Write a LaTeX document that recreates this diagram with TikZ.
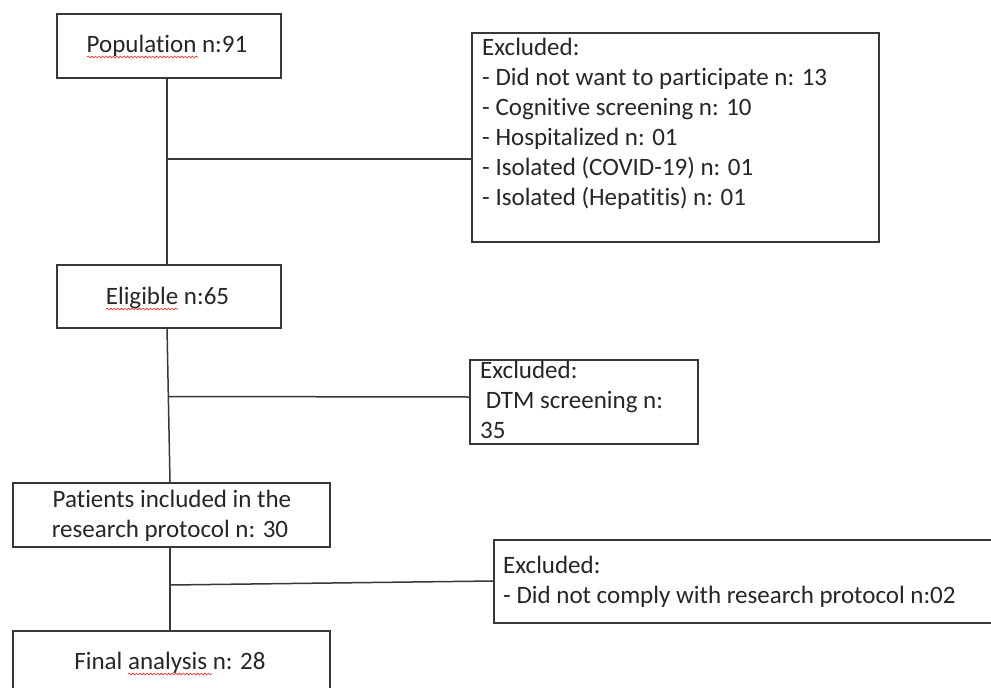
\documentclass[tikz,border=0pt]{standalone}
\usepackage{fontspec}
\setmainfont{Carlito}[Ligatures={NoCommon}]
\usetikzlibrary{decorations.pathmorphing}
\tikzset{
  boxnode/.style={draw=black!78, line width=1.5pt, rectangle, inner sep=0pt, anchor=north west},
  conn/.style={draw=black!78, line width=1.5pt},
  txt/.style={inner sep=0pt, text=black!85, font=\fontsize{25pt}{30pt}\selectfont},
  squig/.style={draw=red!85, line width=0.6pt, decorate, decoration={snake, amplitude=0.9pt, segment length=3.6pt}}
}
\begin{document}
\begin{tikzpicture}[x=1pt,y=-1pt]
\clip (0,0) rectangle (991,688);
\fill[white] (0,0) rectangle (991,688);

% boxes
\node[boxnode, minimum width=224pt, minimum height=64pt] (pop) at (56,13) {};
\node[boxnode, minimum width=407pt, minimum height=209pt] (ex1) at (471,32) {};
\node[boxnode, minimum width=224pt, minimum height=63pt] (elig) at (56,264) {};
\node[boxnode, minimum width=228pt, minimum height=84pt] (ex2) at (469,359) {};
\node[boxnode, minimum width=317pt, minimum height=64pt] (pat) at (12,482) {};
\node[boxnode, minimum width=520pt, minimum height=83pt] (ex3) at (493,539) {};
\node[boxnode, minimum width=317pt, minimum height=80pt] (fin) at (12,630) {};

% texts
\node[txt, anchor=base] at (167,52) {Population n:91};
\node[txt, anchor=base west] at (482,55) {Excluded:};
\node[txt, anchor=base west] at (482,85) {- Did not want to participate n: 13};
\node[txt, anchor=base west] at (482,115) {- Cognitive screening n: 10};
\node[txt, anchor=base west] at (482,145) {- Hospitalized n: 01};
\node[txt, anchor=base west] at (482,175) {- Isolated (COVID-19) n: 01};
\node[txt, anchor=base west] at (482,205) {- Isolated (Hepatitis) n: 01};
\node[txt, anchor=base] at (167.5,304) {Eligible n:65};
\node[txt, anchor=base west] at (480,378) {Excluded:};
\node[txt, anchor=base west] at (480,408) {\ DTM screening n:};
\node[txt, anchor=base west] at (480,438) {35};
\node[txt, anchor=base] at (172,507) {Patients included in the};
\node[txt, anchor=base] at (170,537) {research protocol n: 30};
\node[txt, anchor=base west] at (503,573) {Excluded:};
\node[txt, anchor=base west] at (503,603) {- Did not comply with research protocol n:02};
\node[txt, anchor=base] at (170,669) {Final analysis n: 28};

% spell-check squiggles
\draw[squig] (87,57) -- (198,57);
\draw[squig] (106,309) -- (178,309);
\draw[squig] (128,674) -- (212,674);

% connectors
\coordinate (j1) at (167,159);
\coordinate (j2) at (168.5,396.5);
\coordinate (j3) at (170,585);
\draw[conn] (pop.south -| j1) -- (elig.north -| j1);
\draw[conn] (j1) -- (j1 -| ex1.west);
\draw[conn] (167,327) -- (170,482);
\draw[conn] (j2) -- (469,397);
\draw[conn] (pat.south -| j3) -- (fin.north -| j3);
\draw[conn] (j3) -- (493,581);
\end{tikzpicture}
\end{document}
